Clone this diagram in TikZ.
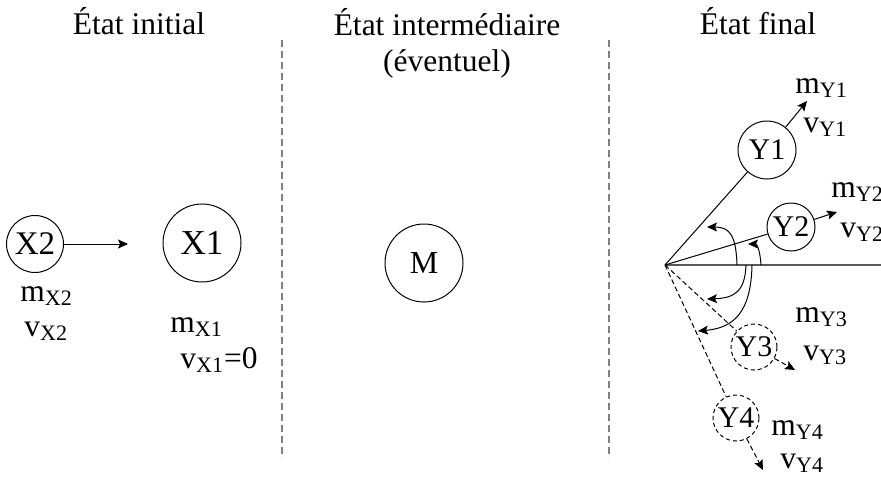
\documentclass[tikz,border=0pt]{standalone}
\usepackage{fontspec}
\setmainfont{Liberation Serif}
\usetikzlibrary{arrows.meta}
\tikzset{
  body/.style={draw,circle,inner sep=0pt,line width=0.5pt},
  ghost/.style={body,dashed,dash pattern=on 2pt off 1.5pt},
  lbl/.style={anchor=base west,inner sep=0pt,font=\fontsize{15.75}{18}\selectfont},
  title/.style={anchor=base,inner sep=0pt,font=\fontsize{15.75}{18}\selectfont},
  sep/.style={gray,line width=0.75pt,dash pattern=on 3.5pt off 2pt},
  fl/.style={line width=0.5pt,-{Stealth[length=5pt,width=4.5pt,inset=1pt]}},
}
\begin{document}
\begin{tikzpicture}[x=0.5pt,y=-0.5pt]
      \useasboundingbox (0,0) rectangle (881,481);
      \draw
        (139,35) node[title] (t0){État initial}
        (447,36) node[title] (t1){État intermédiaire}
        (447,72) node[title] (t2){(éventuel)}
        (758,35) node[title] (t3){État final};
      \coordinate (s0a) at (282,40);
      \coordinate (s0b) at (282,458);
      \coordinate (s1a) at (609,40);
      \coordinate (s1b) at (609,458);
      \draw[sep] (s0a) -- (s0b);
      \draw[sep] (s1a) -- (s1b);
      \draw
        (35,244) node[body,minimum size=28.5pt,font=\fontsize{16.5}{19}\selectfont] (X2){X2}
        (202,243) node[body,minimum size=39pt,font=\fontsize{17.5}{20}\selectfont] (X1){X1}
        (424,263) node[body,minimum size=39pt,font=\fontsize{16}{19}\selectfont] (M){M};
      \coordinate (hX) at (128,244);
      \draw[fl] (X2) -- (hX);
      \draw
        (20,301) node[lbl] (mX2){m\textsubscript{X2}}
        (24,336) node[lbl] (vX2){v\textsubscript{X2}}
        (170,332) node[lbl] (mX1){m\textsubscript{X1}}
        (180,368) node[lbl] (vX1){v\textsubscript{X1}=0};
      \coordinate (O) at (665,265);
      \coordinate (E) at (881,265);
      \draw[gray!70!black,line width=0.75pt] (O) -- (E);
      \draw
        (767,150) node[body,minimum size=29pt,font=\fontsize{15}{18}\selectfont] (Y1){Y1}
        (791,227) node[body,minimum size=24pt,font=\fontsize{15}{18}\selectfont] (Y2){Y2}
        (754,347) node[ghost,minimum size=23pt,font=\fontsize{15}{18}\selectfont] (Y3){Y3}
        (736,418) node[ghost,minimum size=23pt,font=\fontsize{15}{18}\selectfont] (Y4){Y4};
      \coordinate (h1) at (807,101);
      \coordinate (h2) at (837,212);
      \coordinate (h3) at (795,370);
      \coordinate (h4) at (763,470);
      \begin{scope}[line width=0.5pt]
        \draw (O) to (Y1);
        \draw (O) to (Y2);
        \draw[dashed,dash pattern=on 2.5pt off 1.5pt] (O) to (Y3);
        \draw[dashed,dash pattern=on 2.5pt off 1.5pt] (O) to (Y4);
        \draw[fl] (Y1) to (h1);
        \draw[fl] (Y2) to (h2);
        \draw[fl,dash pattern=on 2.5pt off 1.5pt] (Y3) to (h3);
        \draw[fl,dash pattern=on 2.5pt off 1.5pt] (Y4) to (h4);
      \end{scope}
      \coordinate (a1) at (737,265);
      \coordinate (b1) at (707,227);
      \coordinate (a2) at (761,265);
      \coordinate (b2) at (748,244);
      \coordinate (a3) at (746,265);
      \coordinate (b3) at (707,299);
      \coordinate (a4) at (752,265);
      \coordinate (b4) at (698,331);
      \draw[fl] (a1) .. controls (736,234) and (729,227) .. (b1);
      \draw[fl] (a2) .. controls (760,250) and (757,244) .. (b2);
      \draw[fl] (a3) .. controls (745,292) and (734,298) .. (b3);
      \draw[fl] (a4) .. controls (751,312) and (734,328) .. (b4);
      \draw
        (795,93) node[lbl] (mY1){m\textsubscript{Y1}}
        (803,132) node[lbl] (vY1){v\textsubscript{Y1}}
        (831,197) node[lbl] (mY2){m\textsubscript{Y2}}
        (840,237) node[lbl] (vY2){v\textsubscript{Y2}}
        (795,322) node[lbl] (mY3){m\textsubscript{Y3}}
        (803,360) node[lbl] (vY3){v\textsubscript{Y3}}
        (771,435) node[lbl] (mY4){m\textsubscript{Y4}}
        (780,468) node[lbl] (vY4){v\textsubscript{Y4}};
    \end{tikzpicture}
\end{document}
